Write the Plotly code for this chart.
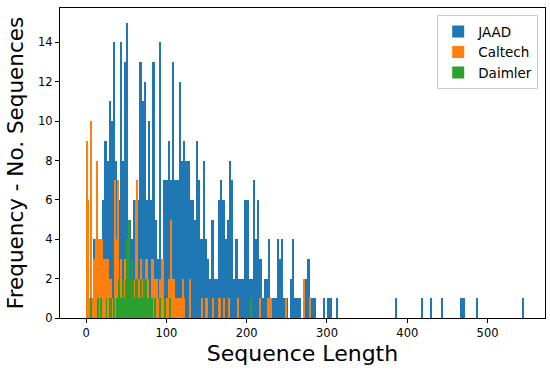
import plotly.graph_objects as go

# ---- data (histogram bin counts) ----
SERIES_NAMES = ["JAAD", "Caltech", "Daimler"]
SERIES_COLORS = ["#1f77b4", "#ff7f0e", "#2ca02c"]

# JAAD: 200 bins spanning sequence lengths 1..545
JAAD_RANGE = (1, 545)
JAAD_COUNTS = [
    5, 0, 1, 4, 4, 3, 4, 6, 9, 8,
    11, 10, 14, 8, 6, 14, 8, 13, 15, 5,
    4, 6, 5, 6, 13, 11, 12, 6, 10, 6,
    13, 5, 3, 14, 3, 7, 7, 9, 7, 13,
    7, 7, 12, 8, 9, 8, 8, 6, 6, 5,
    9, 7, 4, 8, 4, 3, 2, 5, 2, 2,
    6, 7, 6, 4, 5, 8, 7, 2, 4, 2,
    2, 2, 6, 6, 2, 2, 7, 4, 6, 3,
    1, 2, 2, 4, 1, 1, 1, 4, 3, 4,
    1, 1, 0, 2, 4, 1, 1, 1, 0, 0,
    2, 3, 1, 1, 1, 0, 0, 0, 1, 0,
    1, 1, 0, 0, 1, 0, 0, 0, 0, 0,
    0, 0, 0, 0, 0, 0, 0, 0, 0, 0,
    0, 0, 0, 0, 0, 0, 0, 0, 0, 0,
    0, 1, 0, 0, 0, 0, 0, 0, 0, 0,
    0, 0, 0, 1, 0, 0, 0, 1, 0, 0,
    0, 0, 1, 0, 0, 0, 0, 0, 0, 0,
    0, 1, 1, 0, 0, 0, 0, 0, 1, 0,
    0, 0, 0, 0, 0, 0, 0, 0, 0, 0,
    0, 0, 0, 0, 0, 0, 0, 0, 0, 1,
]

# Caltech: 200 bins spanning 0..280
CALTECH_RANGE = (0, 280)
CALTECH_COUNTS = [
    9, 6, 1, 0, 10, 1, 0, 3, 4, 8,
    3, 4, 4, 3, 4, 3, 3, 1, 3, 3,
    2, 1, 2, 1, 1, 7, 4, 2, 7, 2,
    2, 3, 2, 1, 3, 2, 3, 2, 3, 2,
    1, 2, 2, 1, 6, 7, 2, 2, 3, 2,
    2, 1, 2, 3, 3, 2, 1, 1, 3, 3,
    2, 2, 2, 2, 1, 2, 2, 3, 3, 1,
    1, 1, 1, 2, 1, 5, 2, 2, 2, 1,
    1, 1, 1, 1, 1, 0, 2, 1, 0, 0,
    0, 0, 2, 0, 0, 0, 0, 0, 0, 0,
    0, 0, 0, 1, 0, 0, 1, 1, 0, 0,
    0, 0, 1, 0, 0, 0, 0, 0, 1, 1,
    0, 0, 1, 0, 0, 0, 0, 1, 0, 0,
    0, 0, 0, 0, 0, 1, 0, 0, 0, 0,
    0, 0, 0, 0, 0, 0, 0, 0, 0, 0,
    0, 0, 0, 0, 1, 0, 0, 0, 0, 0,
    0, 1, 0, 1, 1, 0, 0, 0, 0, 0,
    0, 0, 0, 0, 0, 0, 0, 1, 0, 0,
    0, 0, 0, 0, 0, 0, 0, 0, 0, 0,
    0, 0, 0, 2, 0, 0, 0, 0, 0, 1,
]

# Daimler: 200 bins spanning 6..206
DAIMLER_RANGE = (6, 206)
DAIMLER_COUNTS = [
    1, 0, 0, 0, 0, 0, 0, 0, 1, 0,
    0, 0, 1, 0, 0, 0, 0, 0, 0, 1,
    0, 0, 0, 1, 0, 1, 0, 0, 1, 0,
    0, 0, 1, 1, 2, 1, 1, 1, 1, 2,
    1, 1, 1, 2, 4, 1, 2, 5, 1, 2,
    1, 3, 2, 1, 1, 2, 1, 2, 1, 1,
    1, 1, 2, 1, 1, 3, 1, 2, 2, 1,
    1, 1, 1, 1, 1, 1, 1, 0, 0, 1,
    0, 0, 0, 0, 0, 0, 1, 0, 0, 0,
    0, 0, 1, 0, 0, 0, 0, 0, 1, 0,
    0, 0, 0, 0, 0, 0, 0, 0, 0, 0,
    0, 0, 0, 0, 0, 0, 0, 0, 0, 0,
    0, 0, 0, 0, 0, 0, 0, 0, 0, 0,
    0, 0, 0, 0, 0, 0, 0, 0, 0, 0,
    0, 0, 0, 0, 0, 0, 0, 0, 0, 0,
    0, 0, 0, 0, 0, 0, 0, 0, 0, 0,
    0, 0, 0, 0, 0, 0, 0, 0, 0, 0,
    0, 0, 0, 0, 0, 0, 0, 0, 0, 0,
    0, 0, 0, 0, 0, 0, 0, 0, 0, 0,
    0, 0, 0, 0, 0, 0, 0, 0, 0, 1,
]

X_TICKS = [0, 100, 200, 300, 400, 500]
Y_TICKS = [0, 2, 4, 6, 8, 10, 12, 14]
X_TITLE = "Sequence Length"
Y_TITLE = "Frequency - No. Sequences"

FONT = "DejaVu Sans"


def hist_trace(name, color, rng, counts):
    lo, hi = rng
    n = len(counts)
    w = (hi - lo) / n
    centers = [lo + w * (i + 0.5) for i in range(n)]
    return go.Bar(
        x=centers, y=counts, width=w, name=name,
        marker=dict(color=color, line=dict(width=0)),
        opacity=1.0,
    )


fig = go.Figure()
for name, color, rng, counts in [
    (SERIES_NAMES[0], SERIES_COLORS[0], JAAD_RANGE, JAAD_COUNTS),
    (SERIES_NAMES[1], SERIES_COLORS[1], CALTECH_RANGE, CALTECH_COUNTS),
    (SERIES_NAMES[2], SERIES_COLORS[2], DAIMLER_RANGE, DAIMLER_COUNTS),
]:
    fig.add_trace(hist_trace(name, color, rng, counts))

axis_common = dict(
    showline=True, linecolor="black", linewidth=1, mirror=True,
    ticks="outside", ticklen=4, tickcolor="black", tickwidth=1,
    showgrid=False, zeroline=False, automargin=False,
    tickfont=dict(family=FONT, size=11.5, color="black"),
)

fig.update_layout(
    width=550, height=375,
    margin=dict(l=60, r=5, t=8, b=57),
    paper_bgcolor="white", plot_bgcolor="white",
    barmode="overlay", bargap=0,
    font=dict(family=FONT, color="black"),
    showlegend=True,
    legend=dict(
        x=0.986, y=0.977, xanchor="right", yanchor="top",
        bgcolor="rgba(255,255,255,0.8)", bordercolor="#cccccc", borderwidth=1,
        font=dict(family=FONT, size=13.5, color="black"),
        traceorder="normal", itemwidth=30,
    ),
    xaxis=dict(
        range=[-32.5, 571.5], tickvals=X_TICKS,
        title=dict(text=X_TITLE, font=dict(family=FONT, size=22, color="black"), standoff=6),
        **axis_common,
    ),
    yaxis=dict(
        range=[0, 15.75], tickvals=Y_TICKS,
        title=dict(text=Y_TITLE, font=dict(family=FONT, size=21.5, color="black"), standoff=8),
        **axis_common,
    ),
)

fig.write_html(
    "out.html",
    config={"displayModeBar": False},
    post_script="document.body.style.margin='0';",
)
